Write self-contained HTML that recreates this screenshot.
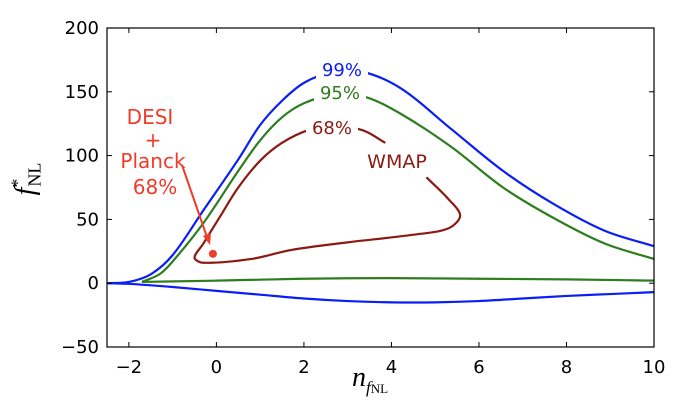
<!DOCTYPE html>
<html><head><meta charset="utf-8"><style>
body{margin:0;background:#fff}
svg text{font-family:"DejaVu Sans","Liberation Sans",sans-serif}
</style></head><body>
<svg id="chart" width="680" height="412" viewBox="0 0 680 412" xmlns="http://www.w3.org/2000/svg">
<g id="plot"></g>
</svg>
<script>
const xTicks=[-2,0,2,4,6,8,10];
const yTicks=[-50,0,50,100,150,200];
const blueUpperX=[-2.5,-2,-1.5,-1,-0.3,0.5,1,1.5,2,2.6,3.3,4.2,5.36,6.55,7.71,8.88,10];
const blueUpperY=[0,1,7,22,57,97,124,143,157,165,166,153,121,88,62,41,29];
const blueLowerX=[-2.5,-2,-1,0,1,2,3,4,5,6,7,8,9,10];
const blueLowerY=[0,-0.5,-3,-6,-9,-12,-14,-15,-15,-14,-12,-10,-8.5,-7];
const greenUpperX=[-1.7,-1.3,-1,-0.3,0.5,1,1.5,2,2.7,3.4,4.2,5.36,6.55,7.71,8.88,10];
const greenUpperY=[1,7,17,47,88,112,130,141,148,146,133,107,75,51,31,19];
const greenLowerX=[-1.7,0,2,4,6,8,10];
const greenLowerY=[1,2,3.5,4,3.5,3,2];
const red68X=[4.8,5.3,5.57,5.3,4.5,3,1.7,0.8,-0.3,-0.5,-0.3,0.08,0.5,1,1.5,2.1,2.6,3.33,3.86];
const red68Y=[83,66,53,43,38,32,26,19,16,20,31,52,75,96,110,120,123,120,110];
const desiX=[-0.08];
const desiY=[23];
const X0=107,X1=654,Y0=347,Y1=28;
const sx=v=>X0+(v+2.5)/12.5*(X1-X0);
const sy=v=>Y0-(v+50)/250*(Y0-Y1);
const NS="http://www.w3.org/2000/svg";
const g=document.getElementById('plot');
function mk(t,a,p){const e=document.createElementNS(NS,t);for(const k in a)e.setAttribute(k,a[k]);(p||g).appendChild(e);return e;}
function smooth(xs,ys){const P=xs.map((x,i)=>[sx(x),sy(ys[i])]);const n=P.length;
const D=[];for(let i=0;i<n-1;i++)D.push(Math.hypot(P[i+1][0]-P[i][0],P[i+1][1]-P[i][1])||1);
const T=P.map((p,i)=>{if(i===0)return[(P[1][0]-p[0])/D[0],(P[1][1]-p[1])/D[0]];
if(i===n-1)return[(p[0]-P[i-1][0])/D[i-1],(p[1]-P[i-1][1])/D[i-1]];
const s=D[i-1]+D[i];return[(P[i+1][0]-P[i-1][0])/s,(P[i+1][1]-P[i-1][1])/s];});
let d=`M${P[0][0]},${P[0][1]}`;
for(let i=0;i<n-1;i++){const k=D[i]/3;
d+=` C${P[i][0]+T[i][0]*k},${P[i][1]+T[i][1]*k} ${P[i+1][0]-T[i+1][0]*k},${P[i+1][1]-T[i+1][1]*k} ${P[i+1][0]},${P[i+1][1]}`;}return d;}
function curve(xs,ys,c,name){const e=mk('path',{d:smooth(xs,ys),fill:'none',stroke:c,'stroke-width':2.2});

}
curve(blueUpperX,blueUpperY,'#0a1ef5','blue-99-upper');
curve(blueLowerX,blueLowerY,'#0a1ef5','blue-99-lower');
curve(greenUpperX,greenUpperY,'#2e7d1e','green-95-upper');
curve(greenLowerX,greenLowerY,'#2e7d1e','green-95-lower');
curve(red68X,red68Y,'#8b1a12','wmap-68-contour');
function gap(x,y,w,h){mk('rect',{x:x-w/2,y:y-h/2,width:w,height:h,fill:'#fff'});}
gap(342,70,52,20);gap(340,93,52,18);gap(332,128,52,18);
function txt(s,x,y,c,size,name){const e=mk('text',{x:x,y:y,fill:c,'font-size':size,'text-anchor':'middle'});e.textContent=s;

return e;}
txt('99%',342,76,'#0a1ef5',18,'label-99');
txt('95%',340,99,'#2e7d1e',18,'label-95');
txt('68%',332,134,'#8b1a12',18,'label-68');
txt('WMAP',397,168,'#8b1a12',19,'label-wmap');
txt('DESI',150,124,'#f03c28',20,'label-desi');
txt('+',153,147,'#f03c28',20,'label-plus');
txt('Planck',153,168,'#f03c28',20,'label-planck');
txt('68%',155,194,'#f03c28',20,'label-desi-68');
const dot=mk('circle',{cx:sx(desiX[0]),cy:sy(desiY[0]),r:4,fill:'#f03c28'});


const ar=mk('path',{d:'M182,165 L208,240',stroke:'#f03c28','stroke-width':2,fill:'none'});


mk('path',{d:'M203,236 L210,245 L211,233 Z',fill:'#f03c28'});
const fr=mk('rect',{x:X0,y:Y1,width:X1-X0,height:Y0-Y1,fill:'none',stroke:'#000','stroke-width':1.2});


xTicks.forEach(t=>{const x=sx(t);mk('line',{x1:x,x2:x,y1:Y0,y2:Y0-5,stroke:'#000'});mk('line',{x1:x,x2:x,y1:Y1,y2:Y1+5,stroke:'#000'});
txt(t<0?'\u2212'+(-t):String(t),x,Y0+26,'#000',18,'x-tick-label');});
yTicks.forEach(t=>{const y=sy(t);mk('line',{x1:X0,x2:X0+5,y1:y,y2:y,stroke:'#000'});mk('line',{x1:X1,x2:X1-5,y1:y,y2:y,stroke:'#000'});
const e=txt(t<0?'\u2212'+(-t):String(t),X0-8,y+6,'#000',18,'y-tick-label');e.setAttribute('text-anchor','end');});
</script>
<div style="position:absolute;left:352px;top:362px;font-family:'Liberation Serif',serif;font-style:italic;font-size:28px">n<sub style="font-size:17px">f<span style="font-style:normal;font-size:13px">NL</span></sub></div>
<div style="position:absolute;left:10px;top:160px;transform:rotate(-90deg);font-family:'Liberation Serif',serif;font-style:italic;font-size:28px;white-space:nowrap">f<sup style="font-size:18px;font-style:normal">*</sup><sub style="font-style:normal;font-size:18px;margin-left:-8px">NL</sub></div>
</body></html>
